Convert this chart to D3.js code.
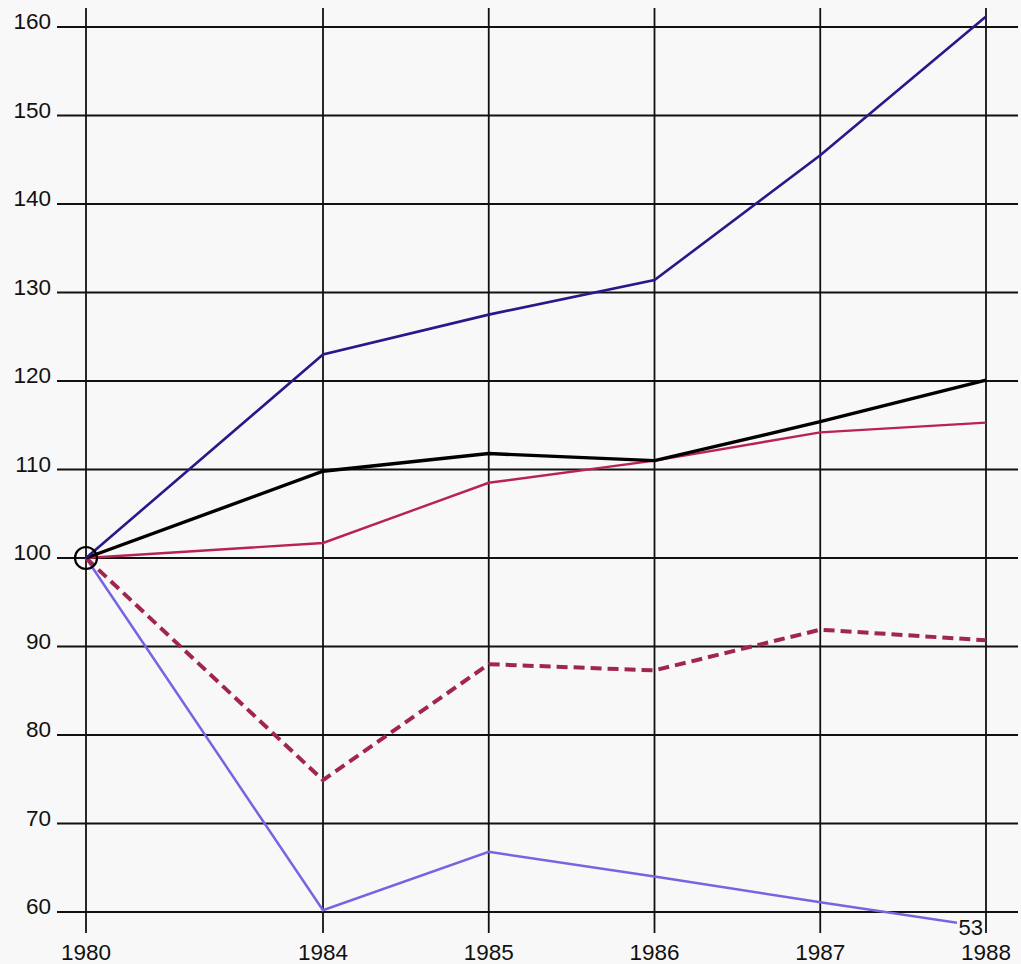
<!DOCTYPE html>
<html><head><meta charset="utf-8">
<script src="https://cdn.jsdelivr.net/npm/d3@7"></script>
<style>html,body{margin:0;padding:0;background:#f8f8f8;}svg{display:block;font-family:"Liberation Sans",Arial,sans-serif;}</style>
</head><body>
<script>
const years = [1980, 1984, 1985, 1986, 1987, 1988];
const yTicks = [60, 70, 80, 90, 100, 110, 120, 130, 140, 150, 160];
const navySeries = [100, 123.0, 127.5, 131.4, 145.5, 161.2];
const blackSeries = [100, 109.8, 111.8, 111.0, 115.4, 120.1];
const crimsonSeries = [100, 101.7, 108.5, 111.0, 114.2, 115.3];
const dashedSeries = [100, 74.9, 88.0, 87.3, 91.9, 90.7];
const lightSeries = [100, 60.2, 66.8, 64.0, 61.1, 58.3];
const endLabel = "53";

const W = 1021, H = 964;
const svg = d3.select("body").append("svg").attr("width", W).attr("height", H);
svg.append("rect").attr("width", W).attr("height", H).attr("fill", "#f8f8f8");

const x = d3.scaleLinear().domain([1980, 1984, 1988]).range([86, 323, 986]);
const y = d3.scaleLinear().domain([60, 160]).range([912, 27]);

const g = svg.append("g");
g.selectAll("line.h").data(yTicks).join("line")
  .attr("x1", 57).attr("x2", 1018)
  .attr("y1", d => y(d)).attr("y2", d => y(d))
  .attr("stroke", "#111").attr("stroke-width", 1.8);
g.selectAll("line.v").data(years).join("line")
  .attr("x1", d => x(d)).attr("x2", d => x(d))
  .attr("y1", 8).attr("y2", 933)
  .attr("stroke", "#111").attr("stroke-width", 1.8);

svg.selectAll("text.yl").data(yTicks).join("text")
  .attr("x", 51).attr("y", d => y(d) + 2)
  .attr("text-anchor", "end").attr("font-size", 22.5).attr("fill", "#111")
  .text(d => d);
svg.selectAll("text.xl").data(years).join("text")
  .attr("x", d => x(d)).attr("y", 960)
  .attr("text-anchor", "middle").attr("font-size", 22.5).attr("fill", "#111")
  .text(d => d);

const line = d3.line().x((d, i) => x(years[i])).y(d => y(d));

svg.append("clipPath").attr("id", "lc").append("rect")
  .attr("x", 0).attr("y", 0).attr("width", 957).attr("height", H);

svg.append("path").datum(lightSeries).attr("d", line)
  .attr("fill", "none").attr("stroke", "#7466e0").attr("stroke-width", 2.5)
  .attr("clip-path", "url(#lc)");
svg.append("path").datum(dashedSeries).attr("d", line)
  .attr("fill", "none").attr("stroke", "#a1264f").attr("stroke-width", 4)
  .attr("stroke-dasharray", "11,6");
svg.append("path").datum(crimsonSeries).attr("d", line)
  .attr("fill", "none").attr("stroke", "#b8234f").attr("stroke-width", 2.4);
svg.append("path").datum(blackSeries).attr("d", line)
  .attr("fill", "none").attr("stroke", "#000").attr("stroke-width", 3.4);
svg.append("path").datum(navySeries).attr("d", line)
  .attr("fill", "none").attr("stroke", "#28198a").attr("stroke-width", 2.6);

svg.append("circle").attr("cx", x(1980)).attr("cy", y(100)).attr("r", 11)
  .attr("fill", "none").attr("stroke", "#000").attr("stroke-width", 2.2);

svg.append("text").attr("x", 983).attr("y", 935).attr("text-anchor", "end")
  .attr("font-size", 22).attr("fill", "#111").text(endLabel);
</script>
</body></html>
